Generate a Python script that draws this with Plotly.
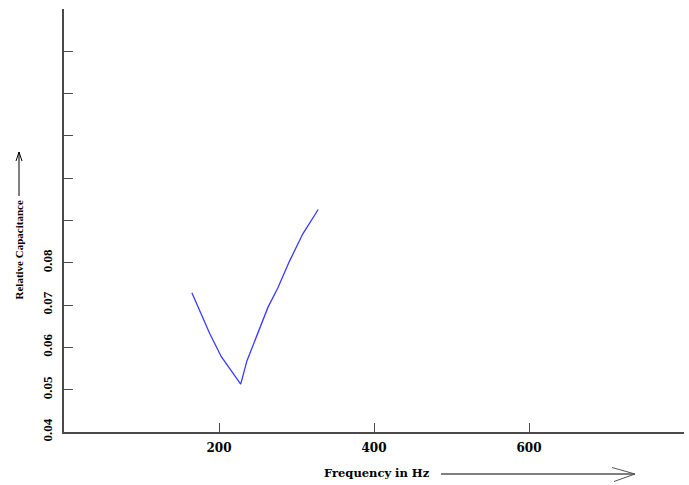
import plotly.graph_objects as go

# Data
frequency_hz = [165, 177, 188, 203, 216, 228, 236, 248, 263, 276, 291, 308, 328]
relative_capacitance = [0.0729, 0.0680, 0.0633, 0.0578, 0.0543, 0.0513,
                        0.0568, 0.0623, 0.0694, 0.0741, 0.0804, 0.0868, 0.0926]

x_tick_vals = [200, 400, 600, 800]
x_tick_text = ["200", "400", "600", ""]
y_tick_vals = [0.04, 0.05, 0.06, 0.07, 0.08, 0.09, 0.10, 0.11, 0.12, 0.13, 0.14]
y_tick_text = ["0.04", "0.05", "0.06", "0.07", "0.08", "", "", "", "", "", ""]

W, H = 689, 485
L, R, T, B = 64, 5, 9, 53
PW, PH = W - L - R, H - T - B


def px(xp):
    return (xp - L) / PW


def py(yp):
    return (H - B - yp) / PH


axis_col = "#4a4a4a"

fig = go.Figure()
fig.add_trace(go.Scatter(
    x=frequency_hz, y=relative_capacitance, mode="lines",
    line=dict(color="#3a3aff", width=1.3), showlegend=False,
))

fig.update_layout(
    width=W, height=H,
    margin=dict(l=L, r=R, t=T, b=B, autoexpand=False),
    paper_bgcolor="white", plot_bgcolor="white",
    xaxis=dict(
        range=[0, 800], showgrid=False, zeroline=False, automargin=False,
        showline=True, linecolor=axis_col, linewidth=1.5,
        ticks="inside", ticklen=9, tickcolor=axis_col, tickwidth=1,
        tickvals=x_tick_vals, ticktext=x_tick_text, ticklabelstandoff=4,
        tickfont=dict(family="DejaVu Serif", size=12, color="black", weight="bold"),
    ),
    yaxis=dict(
        range=[0.04, 0.14], showgrid=False, zeroline=False, automargin=False,
        showline=True, linecolor=axis_col, linewidth=1.5,
        ticks="inside", ticklen=9, tickcolor=axis_col, tickwidth=1,
        tickvals=y_tick_vals, ticktext=y_tick_text, tickangle=-90,
        ticklabelstandoff=5,
        tickfont=dict(family="Liberation Serif", size=13, color="black", weight="bold"),
    ),
)

# Axis titles
fig.add_annotation(
    text="Frequency in Hz", xref="paper", yref="paper",
    x=px(322), y=py(473), xanchor="left", yanchor="middle",
    showarrow=False,
    font=dict(family="DejaVu Serif", size=11.5, color="black", weight="bold"),
)
fig.add_annotation(
    text="Relative Capacitance", xref="paper", yref="paper",
    x=px(18), y=py(250.5), xanchor="center", yanchor="middle",
    textangle=-90, showarrow=False,
    font=dict(family="Liberation Serif", size=11, color="black", weight="bold"),
)

# Arrows beside the titles
arrow_line = dict(color="black", width=1)
fig.add_shape(type="line", xref="paper", yref="paper",
              x0=px(441), y0=py(474), x1=px(635), y1=py(474), line=arrow_line)
fig.add_shape(type="line", xref="paper", yref="paper",
              x0=px(612), y0=py(467.5), x1=px(635), y1=py(474),
              line=dict(color="#555555", width=1))
fig.add_shape(type="line", xref="paper", yref="paper",
              x0=px(614), y0=py(481.5), x1=px(635), y1=py(474),
              line=dict(color="#555555", width=1))

fig.add_shape(type="line", xref="paper", yref="paper",
              x0=px(19), y0=py(196), x1=px(19), y1=py(152), line=arrow_line)
fig.add_shape(type="line", xref="paper", yref="paper",
              x0=px(16), y0=py(161), x1=px(19), y1=py(152), line=arrow_line)
fig.add_shape(type="line", xref="paper", yref="paper",
              x0=px(22), y0=py(161), x1=px(19), y1=py(152), line=arrow_line)

fig.write_html(
    "out.html",
    config={"displayModeBar": False},
    post_script="document.body.style.margin='0';document.body.style.padding='0';",
)
